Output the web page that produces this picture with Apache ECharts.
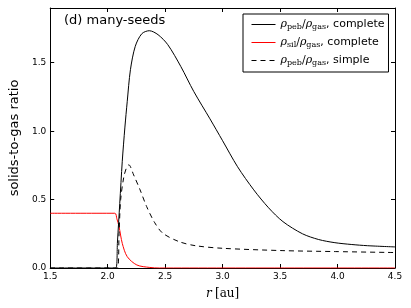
<!DOCTYPE html>
<html><head><meta charset="utf-8">
<script src="https://cdn.jsdelivr.net/npm/echarts@6/dist/echarts.min.js"></script>
<style>html,body{margin:0;padding:0;background:#fff}#c{width:411px;height:308px}</style>
</head><body><div id="c"></div>
<script>
// r [au] and ratio values
const pebComplete = [
 [1.5,0],[2.071,0],[2.085,0.19],[2.105,0.47],[2.127,0.78],[2.15,1.03],[2.17,1.215],[2.198,1.449],
 [2.24,1.62],[2.297,1.712],[2.362,1.734],[2.438,1.705],[2.523,1.632],[2.636,1.473],[2.749,1.29],
 [2.89,1.09],[3.0,0.93],[3.13,0.74],[3.271,0.571],[3.4,0.44],[3.525,0.339],[3.695,0.25],[3.836,0.208],
 [3.977,0.185],[4.119,0.172],[4.26,0.163],[4.5,0.154]
];
const silComplete = [
 [1.5,0.4],[2.062,0.4],[2.08,0.36],[2.099,0.302],[2.127,0.18],[2.17,0.083],[2.254,0.022],[2.367,0.004],[2.45,0],[4.5,0]
];
const pebSimple = [
 [1.5,0],[2.085,0],[2.099,0.25],[2.113,0.5],[2.141,0.668],[2.165,0.735],[2.184,0.754],[2.226,0.68],[2.282,0.571],
 [2.339,0.449],[2.41,0.33],[2.48,0.254],[2.62,0.193],[2.763,0.163],[3.0,0.144],[3.525,0.127],
 [3.98,0.12],[4.5,0.113]
];
const xTicks = [1.5,2.0,2.5,3.0,3.5,4.0,4.5];
const yTicks = [0.0,0.5,1.0,1.5];
const seriesNames = ['pebComplete','silComplete','pebSimple'];

const chart = echarts.init(document.getElementById('c'));
const tickFont = {fontFamily:'DejaVu Sans', fontSize:9, color:'#000'};
const rich = {
  i:{fontFamily:'DejaVu Serif', fontStyle:'italic', fontSize:11, color:'#000'},
  s:{fontFamily:'DejaVu Serif', fontSize:8, color:'#000', padding:[5,0,0,0]},
  n:{fontFamily:'DejaVu Serif', fontSize:11, color:'#000'},
  t:{fontFamily:'DejaVu Sans', fontSize:11, color:'#000'}
};
const labels = {
  pebComplete:'{i|ρ}{s|peb}{n|/}{i|ρ}{s|gas}{t|, complete}',
  silComplete:'{i|ρ}{s|sil}{n|/}{i|ρ}{s|gas}{t|, complete}',
  pebSimple:'{i|ρ}{s|peb}{n|/}{i|ρ}{s|gas}{t|, simple}'
};
const xAxisBase = {type:'value', min:1.5, max:4.5, interval:0.5,
  axisLine:{show:true, onZero:false, lineStyle:{color:'#000', width:1}},
  axisTick:{show:true, inside:true, length:4, lineStyle:{color:'#000'}},
  splitLine:{show:false}};
const yAxisBase = {type:'value', min:0, max:1.9, interval:0.5,
  axisLine:{show:true, lineStyle:{color:'#000', width:1}},
  axisTick:{show:true, inside:true, length:4, lineStyle:{color:'#000'}},
  splitLine:{show:false}};
chart.setOption({
  animation:false,
  grid:{left:41, right:16, top:8, bottom:40, containLabel:false},
  title:{text:'(d) many-seeds', left:59, top:9, textStyle:{fontFamily:'DejaVu Sans', fontSize:13, fontWeight:'normal', color:'#000'}},
  legend:{
    left:243, top:14, width:146, orient:'vertical', padding:[5,4,5,8], itemGap:6,
    itemWidth:24, itemHeight:12, backgroundColor:'#fff', borderColor:'#000', borderWidth:1, borderRadius:0,
    itemStyle:{opacity:0}, lineStyle:{width:1},
    data:seriesNames,
    formatter:n=>labels[n], textStyle:{rich:rich}
  },
  xAxis:[
    Object.assign({}, xAxisBase, {position:'bottom', name:'{i|r} {n|[au]}', nameLocation:'middle', nameGap:20,
      nameTextStyle:{rich:{i:{fontFamily:'DejaVu Serif', fontStyle:'italic', fontSize:12, color:'#000'}, n:{fontFamily:'DejaVu Serif', fontSize:12, color:'#000'}}},
      axisLabel:Object.assign({margin:4, formatter:v=>v.toFixed(1)}, tickFont)}),
    Object.assign({}, xAxisBase, {position:'top', axisLabel:{show:false}})
  ],
  yAxis:[
    Object.assign({}, yAxisBase, {position:'left', name:'solids-to-gas ratio', nameLocation:'middle', nameGap:26,
      nameTextStyle:{fontFamily:'DejaVu Sans', fontSize:13, color:'#000'},
      axisLabel:Object.assign({margin:4, formatter:v=> yTicks.indexOf(v)>=0 ? v.toFixed(1) : ''}, tickFont)}),
    Object.assign({}, yAxisBase, {position:'right', axisLabel:{show:false}})
  ],
  series:[
    {name:'pebComplete', type:'line', data:pebComplete, symbol:'none', smooth:0.3,
      lineStyle:{color:'#000', width:1}, itemStyle:{color:'#000'}, z:3},
    {name:'silComplete', type:'line', data:silComplete, symbol:'none', smooth:0.3,
      lineStyle:{color:'#ff0000', width:1}, itemStyle:{color:'#ff0000'}, z:2},
    {name:'pebSimple', type:'line', data:pebSimple, symbol:'none', smooth:0.3,
      lineStyle:{color:'#000', width:1, type:[5,4]}, itemStyle:{color:'#000'}, z:2}
  ]
});
</script></body></html>
